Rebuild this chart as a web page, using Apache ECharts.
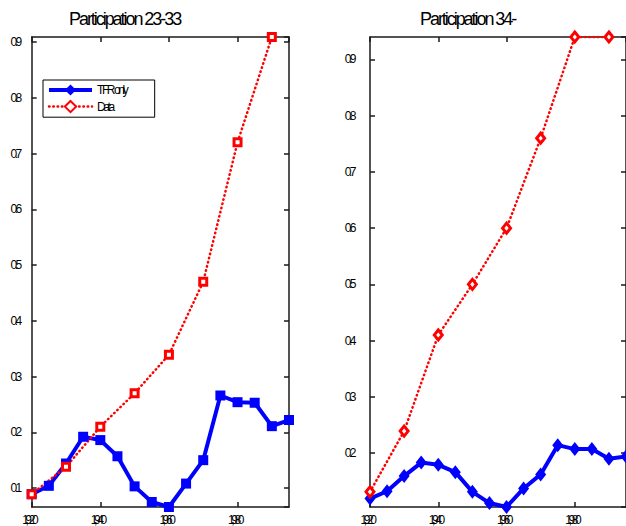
<!DOCTYPE html>
<html><head><meta charset="utf-8">
<script src="https://cdn.jsdelivr.net/npm/echarts@6/dist/echarts.min.js"></script>
<style>html,body{margin:0;padding:0;background:#fff}#c{width:626px;height:526px}</style>
</head><body><div id="c"></div>
<script>
// ---- data ----
const titles = ['Participation 23-33', 'Participation 34-'];
const seriesNames = ['TFR only', 'Data'];
const yearsModel = [1920,1925,1930,1935,1940,1945,1950,1955,1960,1965,1970,1975,1980,1985,1990,1995];
const yearsData = [1920,1930,1940,1950,1960,1970,1980,1990];
const tfr2333 = [0.089,0.104,0.144,0.192,0.186,0.157,0.103,0.075,0.066,0.108,0.150,0.266,0.254,0.253,0.211,0.222];
const data2333 = [0.089,0.138,0.210,0.270,0.339,0.470,0.720,0.909];
const tfr34 = [0.119,0.132,0.159,0.183,0.179,0.166,0.131,0.111,0.104,0.137,0.162,0.214,0.207,0.207,0.190,0.194];
const data34 = [0.131,0.239,0.410,0.500,0.600,0.760,0.940,0.940];
const xRange = [1920, 1995];
const xTickStep = 20;

// ---- chart ----
const FONT = 'Liberation Sans, Arial, sans-serif';
const BLUE = '#0000ff', RED = '#ff0000', AX = '#1a1a1a';
const pair = (xs, vs) => xs.map((x, i) => [x, vs[i]]);
const lim = (...arrs) => { const all = [].concat(...arrs); return [Math.min(...all), Math.max(...all)]; };
const yL = lim(tfr2333, data2333);
const yR = lim(tfr34, data34);

const lineSt = { color: AX, width: 1.5 };
function xAx(gi, pos) {
  return {
    gridIndex: gi, type: 'value', position: pos, min: xRange[0], max: xRange[1], interval: xTickStep,
    axisLine: { show: true, onZero: false, lineStyle: lineSt },
    axisTick: { show: true, inside: true, length: 5, lineStyle: lineSt },
    axisLabel: { show: pos === 'bottom', margin: 7, fontSize: 12, color: '#000', fontFamily: FONT, showMaxLabel: false },
    splitLine: { show: false }
  };
}
function yAx(gi, pos, lims, margin) {
  return {
    gridIndex: gi, type: 'value', position: pos, min: lims[0], max: lims[1], splitNumber: 8,
    axisLine: { show: true, onZero: false, lineStyle: lineSt },
    axisTick: { show: true, inside: true, length: 5, lineStyle: lineSt },
    axisLabel: { show: pos === 'left', margin: margin, fontSize: 12, color: '#000', fontFamily: FONT,
      showMinLabel: false, showMaxLabel: false, formatter: v => v.toFixed(1) },
    splitLine: { show: false }
  };
}
function modelSeries(xi, data, sym, size) {
  return { name: seriesNames[0], type: 'line', xAxisIndex: xi, yAxisIndex: xi, data: data,
    symbol: sym, symbolSize: size, lineStyle: { color: BLUE, width: 4 }, itemStyle: { color: BLUE } };
}
function dataSeries(xi, data, sym, size) {
  return { name: seriesNames[1], type: 'line', xAxisIndex: xi, yAxisIndex: xi, data: data,
    symbol: sym, symbolSize: size, lineStyle: { color: RED, width: 2.5, type: [0.5, 3.8], cap: 'round' },
    itemStyle: { color: '#ffffff', borderColor: RED, borderWidth: 3 } };
}

const chart = echarts.init(document.getElementById('c'), null, { renderer: 'svg' });
chart.setOption({
  animation: false,
  backgroundColor: '#fff',
  title: [
    { text: titles[0], left: 69, top: 10, padding: 0, textAlign: 'left', textStyle: { fontSize: 18, fontWeight: 'normal', color: '#000', fontFamily: FONT } },
    { text: titles[1], left: 420, top: 10, padding: 0, textAlign: 'left', textStyle: { fontSize: 18, fontWeight: 'normal', color: '#000', fontFamily: FONT } }
  ],
  legend: {
    data: seriesNames, orient: 'vertical', left: 43, top: 80, itemWidth: 43, itemHeight: 14, itemGap: 4,
    padding: [4, 9, 4, 4], backgroundColor: '#fff', borderColor: '#000', borderWidth: 1, borderRadius: 0,
    selectedMode: false, lineStyle: { width: 'inherit' },
    textStyle: { fontSize: 12, color: '#000', fontFamily: FONT }
  },
  grid: [
    { left: 31, right: 337, top: 37, bottom: 18 },
    { left: 370, right: -2, top: 37, bottom: 18 }
  ],
  xAxis: [xAx(0, 'bottom'), xAx(0, 'top'), xAx(1, 'bottom'), xAx(1, 'top')],
  yAxis: [yAx(0, 'left', yL, 12), yAx(0, 'right', yL, 12), yAx(1, 'left', yR, 16), yAx(1, 'right', yR, 16)],
  series: [
    modelSeries(2, pair(yearsModel, tfr34), 'diamond', [11, 14]),
    dataSeries(2, pair(yearsData, data34), 'diamond', [8, 10]),
    modelSeries(0, pair(yearsModel, tfr2333), 'rect', 10),
    dataSeries(0, pair(yearsData, data2333), 'rect', 7)
  ]
});

// condensed text, as in the reference export
function squeeze() {
  document.querySelectorAll('#c text').forEach(t => {
    const fs = parseFloat(getComputedStyle(t).fontSize) || 12;
    const a = t.getAttribute('text-anchor');
    let ls;
    if (fs >= 16) ls = -2.05;
    else if (a === 'middle') { ls = -3.4; t.setAttribute('dx', '-3'); }
    else if (a === 'end') ls = -2.5;
    else ls = -2.4;
    t.style.letterSpacing = ls + 'px';
  });
}
squeeze();
chart.on('finished', squeeze);
setTimeout(squeeze, 50);
</script>
</body></html>
